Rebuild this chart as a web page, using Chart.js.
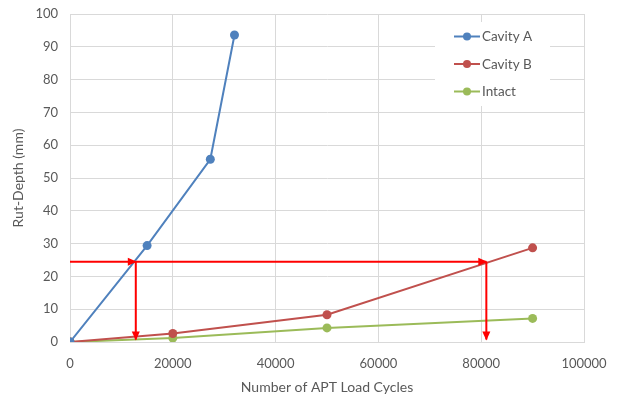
<!DOCTYPE html>
<html>
<head>
<meta charset="utf-8">
<script src="https://cdn.jsdelivr.net/npm/chart.js@4.4.0/dist/chart.umd.min.js"></script>
<style>
html,body{margin:0;padding:0;background:#fff;}
#wrap{width:622px;height:397px;position:relative;}
</style>
</head>
<body>
<div id="wrap"><canvas id="c" width="622" height="397"></canvas></div>
<script>
// ---- data ----
const seriesNames = ["Cavity A", "Cavity B", "Intact"];
const cavityAX = [0, 15000, 27300, 32000];
const cavityAY = [0, 29.4, 55.7, 93.6];
const cavityBX = [0, 20000, 50000, 90000];
const cavityBY = [0, 2.6, 8.3, 28.7];
const intactX = [0, 20000, 50000, 90000];
const intactY = [0, 1.2, 4.3, 7.2];
const xTicks = [0, 20000, 40000, 60000, 80000, 100000];
const yTicks = [0, 10, 20, 30, 40, 50, 60, 70, 80, 90, 100];
// red guide lines (data coordinates)
const guideH_X = [0, 81000];
const guideH_Y = [24.5, 24.5];
const guideV1_X = [12800, 12800];
const guideV1_Y = [24.5, 0.8];
const guideV2_X = [81000, 81000];
const guideV2_Y = [24.5, 0.8];
// arrow heads: [x, y, direction]
const arrowHeads = [[12800, 24.5, "right"], [81000, 24.5, "right"], [12800, 0.8, "down"], [81000, 0.8, "down"]];

const colors = ["#4F81BD", "#C0504D", "#9BBB59"];
const FONT = "Lato, 'Open Sans', sans-serif";
const TXT = "#595959";

function pts(xs, ys){ return xs.map((x,i)=>({x:x, y:ys[i]})); }

const seriesData = [pts(cavityAX,cavityAY), pts(cavityBX,cavityBY), pts(intactX,intactY)];

const datasets = seriesData.map((d,i)=>({
  label: seriesNames[i], data: d, borderColor: colors[i], backgroundColor: colors[i],
  borderWidth: 2, pointRadius: 4.5, pointBorderWidth: 0, pointHoverRadius: 4.5, tension: 0, order: 1
}));
[ [guideH_X,guideH_Y], [guideV1_X,guideV1_Y], [guideV2_X,guideV2_Y] ].forEach(g=>{
  datasets.push({label:"", data: pts(g[0],g[1]), borderColor:"#FF0000", backgroundColor:"#FF0000",
    borderWidth: 2, pointRadius: 0, tension: 0, order: 0, isGuide: true});
});

const arrowPlugin = {
  id: 'arrows',
  afterDatasetsDraw(chart){
    const ctx = chart.ctx, xs = chart.scales.x, ys = chart.scales.y;
    ctx.save();
    ctx.fillStyle = "#FF0000";
    arrowHeads.forEach(a=>{
      const px = xs.getPixelForValue(a[0]), py = ys.getPixelForValue(a[1]);
      ctx.beginPath();
      if(a[2]==="right"){
        ctx.moveTo(px+1, py); ctx.lineTo(px-8, py-4); ctx.lineTo(px-8, py+4);
      } else {
        ctx.moveTo(px, py+1); ctx.lineTo(px-4, py-8); ctx.lineTo(px+4, py-8);
      }
      ctx.closePath(); ctx.fill();
    });
    ctx.restore();
  }
};

const legendPlugin = {
  id: 'customLegend',
  afterDraw(chart){
    const ctx = chart.ctx, ca = chart.chartArea;
    const x0 = ca.right - 149, y0 = ca.top + 8;
    ctx.save();
    ctx.fillStyle = "#fff";
    ctx.fillRect(x0, y0, 115, 84);
    ctx.font = "13.5px " + FONT;
    ctx.textBaseline = "middle";
    seriesNames.forEach((n,i)=>{
      const y = y0 + 14.5 + i*27.5;
      const lx = x0 + 19;
      ctx.strokeStyle = colors[i]; ctx.lineWidth = 2;
      ctx.beginPath(); ctx.moveTo(lx, y); ctx.lineTo(lx+26, y); ctx.stroke();
      ctx.fillStyle = colors[i];
      ctx.beginPath(); ctx.arc(lx+13, y, 4, 0, Math.PI*2); ctx.fill();
      ctx.fillStyle = TXT;
      ctx.fillText(n, lx+28, y+0.5);
    });
    ctx.restore();
  }
};

new Chart(document.getElementById('c'), {
  type: 'line',
  data: { datasets: datasets },
  plugins: [arrowPlugin, legendPlugin],
  options: {
    responsive: false, animation: false, devicePixelRatio: 1,
    layout: { padding: { left: 0, right: 38, top: 14, bottom: 0 } },
    plugins: { legend: { display: false }, tooltip: { enabled: false } },
    scales: {
      x: {
        type: 'linear', min: 0, max: 100000,
        afterBuildTicks(s){ s.ticks = xTicks.map(v=>({value:v})); },
        afterFit(s){ s.height = 55; s.paddingLeft = 0; s.paddingRight = 0; },
        grid: { color: "#D9D9D9", drawTicks: false, lineWidth: 1 },
        border: { display: true, color: "#D9D9D9" },
        ticks: { color: TXT, font: { family: FONT, size: 13 }, padding: 14, maxRotation: 0, callback: v => String(v) },
        title: { display: true, text: "Number of APT Load Cycles", color: TXT, font: { family: FONT, size: 14 }, padding: { top: 4, bottom: 1 } }
      },
      y: {
        type: 'linear', min: 0, max: 100,
        afterBuildTicks(s){ s.ticks = yTicks.map(v=>({value:v})); },
        afterFit(s){ s.width = 70; s.paddingTop = 0; s.paddingBottom = 0; },
        grid: { color: "#D9D9D9", drawTicks: false, lineWidth: 1 },
        border: { display: true, color: "#D9D9D9" },
        ticks: { color: TXT, font: { family: FONT, size: 13 }, padding: 12, callback: v => String(v) },
        title: { display: true, text: "Rut-Depth (mm)", color: TXT, font: { family: FONT, size: 14 }, padding: { top: 10, bottom: 4 } }
      }
    }
  }
});
</script>
</body>
</html>
